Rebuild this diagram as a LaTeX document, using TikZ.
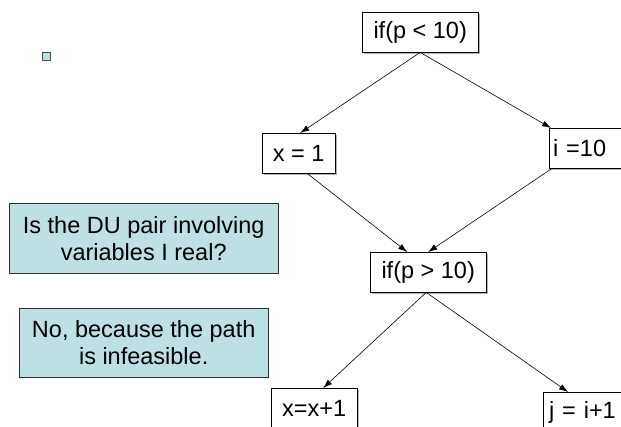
\documentclass[tikz,border=0pt]{standalone}
\usepackage{fontspec}
\setmainfont{Liberation Sans}
\usetikzlibrary{arrows.meta,shadows}
\definecolor{notefill}{RGB}{188,224,228}

\begin{document}
\begin{tikzpicture}[x=1pt,y=-1pt,
  every node/.style={font=\fontsize{23.5}{27}\selectfont},
  stmt/.style={draw, fill=white, anchor=north west, inner sep=0pt,
    minimum height=40pt,
    drop shadow={shadow xshift=1.5pt, shadow yshift=-1.5pt, fill=gray!60, opacity=1}},
  note/.style={draw=black!80, fill=notefill, anchor=north west, inner sep=0pt,
    align=center,
    drop shadow={shadow xshift=1pt, shadow yshift=-1pt, fill=gray!70, opacity=1}},
  flow/.style={-{Latex[length=9pt,width=6pt]}, semithick}]
  \useasboundingbox (0,0) rectangle (621,426);

  % bullet
  \node[draw=black!70, fill=notefill, anchor=north west, inner sep=0pt,
        minimum size=8pt] (bullet) at (42,52) {};

  % flow graph
  \node[stmt, minimum width=116pt] (cond1) at (362,12) {if(p < 10)};
  \node[stmt, minimum width=73pt] (asgx) at (262,133) {x = 1};
  \node[stmt, text width=68pt, inner xsep=4pt, align=left] (asgi) at (549,128) {i =10};
  \node[stmt, minimum width=116pt] (cond2) at (370,252) {if(p > 10)};
  \node[stmt, minimum width=86pt] (incx) at (271,388) {x=x+1};
  \node[stmt, text width=82pt, inner xsep=6pt, align=left] (incj) at (543,392) {j = i+1};

  % notes
  \node[note, minimum width=269pt, minimum height=70pt] (ques) at (9,203)
    {Is the DU pair involving\\variables I real?};
  \node[note, minimum width=249pt, minimum height=69pt] (ans) at (19,308)
    {No, because the path\\is infeasible.};

  % edges
  \draw[flow] (cond1.south) -- ([xshift=1.5pt]asgx.north);
  \draw[flow] (cond1.south) -- ([xshift=2pt]asgi.north west);
  \draw[flow] ([xshift=8.5pt]asgx.south) -- ([xshift=-21pt]cond2.north);
  \draw[flow] ([xshift=3pt]asgi.south west) -- (cond2.north);
  \draw[flow] ([xshift=-2pt]cond2.south) -- ([xshift=9pt]incx.north);
  \draw[flow] ([xshift=-2pt]cond2.south) -- ([xshift=25pt]incj.north west);
\end{tikzpicture}
\end{document}
